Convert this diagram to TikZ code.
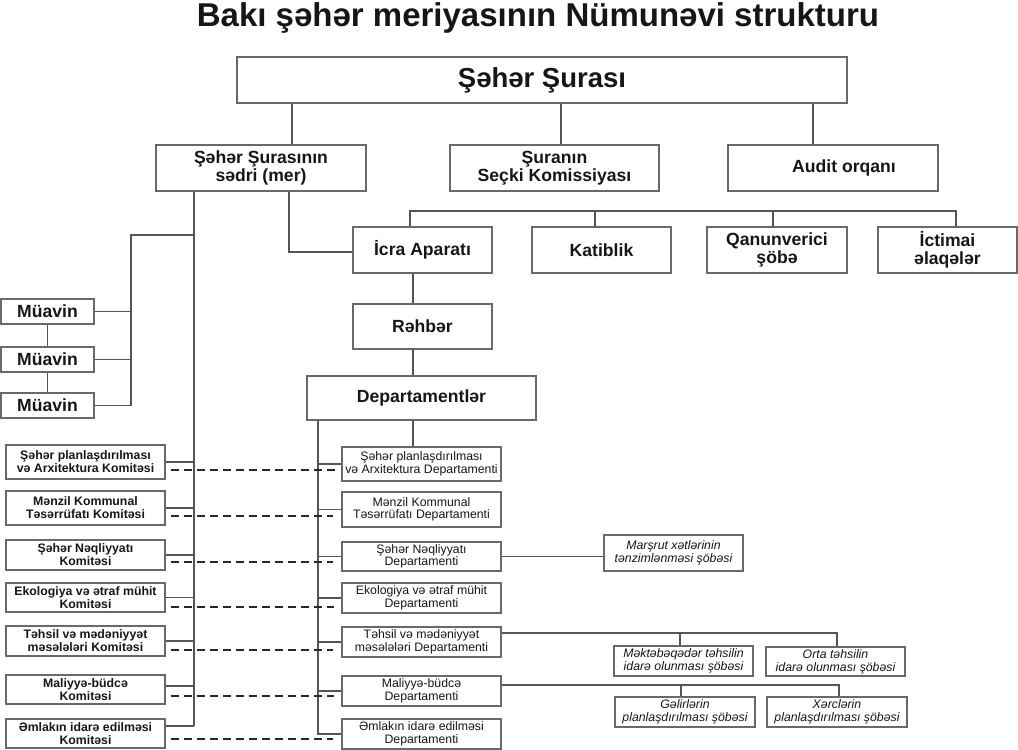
\documentclass[tikz,border=0pt]{standalone}
\usepackage{fontspec}
\setmainfont{Liberation Sans}
\definecolor{linec}{RGB}{85,85,85}
\definecolor{dashc}{RGB}{40,40,40}
\definecolor{boxc}{RGB}{105,105,105}
\definecolor{textc}{RGB}{22,22,22}
\tikzset{
 basebox/.style={draw=boxc, line width=1.4pt, inner sep=0pt, align=center, text=textc},
 bigbox/.style={basebox, font=\fontsize{17.6}{17.5}\selectfont\bfseries},
 commbox/.style={basebox, font=\fontsize{12.3}{13}\selectfont\bfseries, minimum width=159pt},
 deptbox/.style={basebox, font=\fontsize{12.3}{12.5}\selectfont, minimum width=159pt},
 subbox/.style={basebox, font=\fontsize{12.3}{12.7}\selectfont\itshape, line width=1.2pt},
 conn/.style={draw=linec, line width=1.1pt},
 dashconn/.style={draw=dashc, line width=1.4pt, dash pattern=on 8pt off 5pt},
}
\begin{document}
\begin{tikzpicture}[x=1pt,y=-1pt]
\useasboundingbox (0,0) rectangle (1018,750);
% title
\node[font=\fontsize{33}{36}\selectfont\bfseries, text=textc, anchor=base, inner sep=0pt] (title) at (538,26) {Bakı şəhər meriyasının Nümunəvi strukturu};
% top
\node[basebox, font=\fontsize{27.5}{30}\selectfont\bfseries, minimum width=610pt, minimum height=46pt] (main) at (542,80) {Şəhər Şurası};
\node[bigbox, minimum width=210pt, minimum height=46pt] (sedri) at (261,168) {Şəhər Şurasının\\sədri (mer)};
\node[bigbox, minimum width=209pt, minimum height=46pt] (secki) at (554.5,168) {Şuranın\\Seçki Komissiyası};
\node[bigbox, minimum width=210pt, minimum height=46pt] (audit) at (833,168) {\hspace*{22pt}Audit orqanı};
% second row
\node[bigbox, minimum width=139pt, minimum height=46pt] (icra) at (422.5,250) {İcra Aparatı};
\node[bigbox, minimum width=139pt, minimum height=46pt] (katib) at (601.5,250) {Katiblik};
\node[bigbox, minimum width=140pt, minimum height=46pt] (qanun) at (777,250) {Qanunverici\\şöbə};
\node[bigbox, minimum width=139pt, minimum height=46pt] (ictimai) at (947.5,250) {İctimai\\əlaqələr};
\node[bigbox, minimum width=139pt, minimum height=45pt] (rehber) at (422.5,326.5) {Rəhbər};
\node[bigbox, minimum width=229pt, minimum height=44pt] (dep) at (421.5,398) {Departamentlər};
% deputies
\node[bigbox, minimum width=93pt, minimum height=25pt] (m1) at (47.5,311.5) {Müavin};
\node[bigbox, minimum width=93pt, minimum height=25pt] (m2) at (47.5,359.5) {Müavin};
\node[bigbox, minimum width=93pt, minimum height=25pt] (m3) at (47.5,405.5) {Müavin};
% committees
\node[commbox, minimum height=34pt] (c1) at (85.5,462) {Şəhər planlaşdırılması\\və Arxitektura Komitəsi};
\node[commbox, minimum height=34pt] (c2) at (85.5,508) {Mənzil Kommunal\\Təsərrüfatı Komitəsi};
\node[commbox, minimum height=30pt] (c3) at (85.5,555) {Şəhər Nəqliyyatı\\Komitəsi};
\node[commbox, minimum height=29pt] (c4) at (85.5,597.5) {Ekologiya və ətraf mühit\\Komitəsi};
\node[commbox, minimum height=30pt] (c5) at (85.5,641) {Təhsil və mədəniyyət\\məsələləri Komitəsi};
\node[commbox, minimum height=29pt] (c6) at (85.5,689.5) {Maliyyə-büdcə\\Komitəsi};
\node[commbox, minimum height=29pt] (c7) at (85.5,733.5) {Əmlakın idarə edilməsi\\Komitəsi};
% departments
\node[deptbox, minimum height=34pt] (d1) at (421.5,464) {Şəhər planlaşdırılması\\və Arxitektura Departamenti};
\node[deptbox, minimum height=35pt] (d2) at (421.5,509.5) {Mənzil Kommunal\\Təsərrüfatı Departamenti};
\node[deptbox, minimum height=29pt] (d3) at (421.5,556.5) {Şəhər Nəqliyyatı\\Departamenti};
\node[deptbox, minimum height=30pt] (d4) at (421.5,598) {Ekologiya və ətraf mühit\\Departamenti};
\node[deptbox, minimum height=30pt] (d5) at (421.5,642) {Təhsil və mədəniyyət\\məsələləri Departamenti};
\node[deptbox, minimum height=30pt] (d6) at (421.5,691) {Maliyyə-büdcə\\Departamenti};
\node[deptbox, minimum height=30pt] (d7) at (421.5,734) {Əmlakın idarə edilməsi\\Departamenti};
% sub offices
\node[subbox, minimum width=139pt, minimum height=36pt] (s1) at (673.5,553) {Marşrut xətlərinin\\tənzimlənməsi şöbəsi};
\node[subbox, minimum width=139pt, minimum height=30pt] (s2) at (683.5,661) {Məktəbəqədər təhsilin\\idarə olunması şöbəsi};
\node[subbox, minimum width=139pt, minimum height=29pt] (s3) at (835.5,661.5) {Orta təhsilin\\idarə olunması şöbəsi};
\node[subbox, minimum width=140pt, minimum height=30pt] (s4) at (685,712) {Gəlirlərin\\planlaşdırılması şöbəsi};
\node[subbox, minimum width=140pt, minimum height=30pt] (s5) at (837,712) {Xərclərin\\planlaşdırılması şöbəsi};
% connectors top
\draw[conn] (main.south -| 292,0) -- (sedri.north -| 292,0);
\draw[conn] (main.south -| 561,0) -- (secki.north -| 561,0);
\draw[conn] (main.south -| 813,0) -- (audit.north -| 813,0);
% mayor verticals
\coordinate (cend) at (194,726);
\draw[conn] (sedri.south -| 194,0) -- (cend);
\draw[conn] (sedri.south -| 289,0) -- (289,252) -- (icra.west |- 0,252);
% deputies
\draw[conn] (194,235) -- (131,235) -- (m3.east -| 131,0) -- (m3.east);
\draw[conn] (m1.east) -- (m1.east -| 131,0);
\draw[conn] (m2.east) -- (m2.east -| 131,0);
\draw[conn] (m1.south) -- (m2.north);
\draw[conn] (m2.south) -- (m3.north);
% apparatus row
\draw[conn] (icra.north -| 410,0) -- (410,211) -- (956,211) -- (ictimai.north -| 956,0);
\draw[conn] (595,211) -- (katib.north -| 595,0);
\draw[conn] (773,211) -- (qanun.north -| 773,0);
\draw[conn] (icra.south -| 413,0) -- (rehber.north -| 413,0);
\draw[conn] (rehber.south -| 413,0) -- (dep.north -| 413,0);
\draw[conn] (dep.south -| 413,0) -- (d1.north -| 413,0);
% committees to mayor line
\foreach \c in {c1,c2,c3,c4,c5}{\draw[conn] (\c.east) -- (\c.east -| cend);}
\draw[conn] ([yshift=3.5pt]c6.east) -- ([yshift=3.5pt]c6.east -| cend);
\draw[conn] ([yshift=7.5pt]c7.east) -- (cend);
% departments bus
\draw[conn] (dep.south -| 318,0) -- (d7.west -| 318,0) -- (d7.west);
\foreach \d in {d1,d2,d3,d4,d5,d6}{\draw[conn] (\d.west -| 318,0) -- (\d.west);}
% dashed links
\draw[dashconn] ([xshift=5pt]c1.east |- 0,470) -- ([xshift=-4pt]d1.west |- 0,470);
\draw[dashconn] ([xshift=5pt]c2.east |- 0,516) -- ([xshift=-8pt]d2.west |- 0,516);
\draw[dashconn] ([xshift=5pt]c3.east |- 0,562) -- ([xshift=-8pt]d3.west |- 0,562);
\draw[dashconn] ([xshift=5pt]c4.east |- 0,607) -- ([xshift=-7pt]d4.west |- 0,607);
\draw[dashconn] ([xshift=5pt]c5.east |- 0,650) -- ([xshift=-8pt]d5.west |- 0,650);
\draw[dashconn] ([xshift=5pt]c6.east |- 0,696) -- ([xshift=-7pt]d6.west |- 0,696);
\draw[dashconn] ([xshift=5pt]c7.east |- 0,739) -- ([xshift=-8pt]d7.west |- 0,739);
% sub offices
\draw[conn] (d3.east) -- (s1.west |- d3.east);
\draw[conn] (d5.east |- 0,633) -- (837,633) -- (s3.north -| 837,0);
\draw[conn] (680,633) -- (s2.north -| 680,0);
\draw[conn] (d6.east |- 0,685) -- (839,685) -- (s5.north -| 839,0);
\draw[conn] (681,685) -- (s4.north -| 681,0);
\end{tikzpicture}
\end{document}
